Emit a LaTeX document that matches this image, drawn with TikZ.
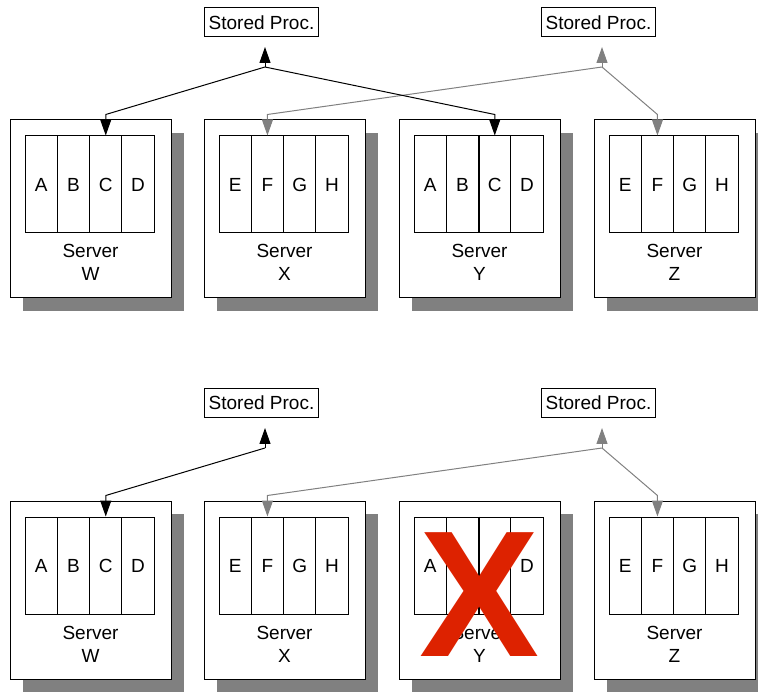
\documentclass[tikz,border=0pt]{standalone}
\usepackage{fontspec}
\setmainfont{Liberation Sans}
\usepackage{tikz}
\usetikzlibrary{calc}
\usetikzlibrary{arrows.meta}
\usetikzlibrary{positioning}
\tikzset{>={Triangle[length=16pt,width=11pt]}}
\definecolor{shadowgray}{HTML}{808080}
\definecolor{crossred}{HTML}{DD2200}
\tikzstyle{srvbox} = [draw, fill=white, line width=1pt, minimum width=161pt, minimum height=178pt, inner sep=0]
\tikzstyle{cell} = [draw, line width=1pt, minimum width=32.3pt, minimum height=97pt, inner sep=0, font=\fontsize{19}{23}\selectfont]
\tikzstyle{lbl} = [inner sep=0, anchor=base, font=\fontsize{19}{23}\selectfont]
\tikzstyle{proc} = [draw, fill=white, line width=1pt, inner xsep=4pt, inner ysep=0, minimum height=29pt, font=\fontsize{19}{23}\selectfont]
\tikzstyle{blk} = [->, line width=1pt, draw=black]
\tikzstyle{gry} = [->, line width=1pt, draw=shadowgray]

% server box: name, left, top, label, four tables
\newcommand{\server}[8]{%
  \fill[shadowgray] (#2+13,#3+13) rectangle (#2+174,#3+191);
  \node[srvbox] (#1) at (#2+80.5,#3+89) {};
  \node[cell] (#1a) at (#2+31.15,#3+64.5) {#5};
  \node[cell] (#1b) at (#2+63.45,#3+64.5) {#6};
  \node[cell] (#1c) at (#2+95.75,#3+64.5) {#7};
  \node[cell] (#1d) at (#2+128.05,#3+64.5) {#8};
  \node[lbl] (#1l) at (#2+80.5,#3+138) {Server};
  \node[lbl] (#1n) at (#2+80.5,#3+161) {#4};
}

\begin{document}
\begin{tikzpicture}[x=1pt, y=-1pt]
\clip (0,0) rectangle (758,692);
%\node [draw=none] at (379,350) {before / after};
\server{W1}{10}{120}{W}{A}{B}{C}{D}
\server{X1}{204}{120}{X}{E}{F}{G}{H}
\server{Y1}{399}{120}{Y}{A}{B}{C}{D}
\server{Z1}{594}{120}{Z}{E}{F}{G}{H}
\draw [line width=2pt] (Y1b.north east) -- (Y1b.south east);

\node [proc] (sp1) at (261.5, 22.5) {Stored Proc.};
\node [proc] (sp2) at (598.5, 22.5) {Stored Proc.};
\coordinate (j1) at (265, 67);
\coordinate (t1) at (265, 47);
\coordinate (j2) at (602, 67);
\coordinate (t2) at (602, 47);

\draw [gry] (j2) -- (t2);
\draw [gry] (j2) -- ([yshift=21pt]X1b.north) -- (X1b.north);
\draw [gry] (j2) -- ([yshift=21pt]Z1b.north) -- (Z1b.north);
\draw [blk] (j1) -- (t1);
\draw [blk] (j1) -- ([yshift=21pt]W1c.north) -- (W1c.north);
\draw [blk] (j1) -- ([yshift=21pt]Y1c.north) -- (Y1c.north);

\server{W2}{10}{501}{W}{A}{B}{C}{D}
\server{X2}{204}{501}{X}{E}{F}{G}{H}
\server{Y2}{399}{501}{Y}{A}{B}{C}{D}
\server{Z2}{594}{501}{Z}{E}{F}{G}{H}
\draw [line width=2pt] (Y2b.north east) -- (Y2b.south east);

\node [proc] (sp3) at (261.5, 403) {Stored Proc.};
\node [proc] (sp4) at (598.5, 403) {Stored Proc.};
\coordinate (j3) at (265, 448);
\coordinate (t3) at (265, 428);
\coordinate (j4) at (602, 448);
\coordinate (t4) at (602, 428);

\draw [gry] (j4) -- (t4);
\draw [gry] (j4) -- ([yshift=21pt]X2b.north) -- (X2b.north);
\draw [gry] (j4) -- ([yshift=21pt]Z2b.north) -- (Z2b.north);
\draw [blk] (j3) -- (t3);
\draw [blk] (j3) -- ([yshift=21pt]W2c.north) -- (W2c.north);

\node [text=crossred, inner sep=0, font=\fontsize{180}{180}\selectfont\bfseries] (cross) at (480, 595) {X};
\end{tikzpicture}
\end{document}
